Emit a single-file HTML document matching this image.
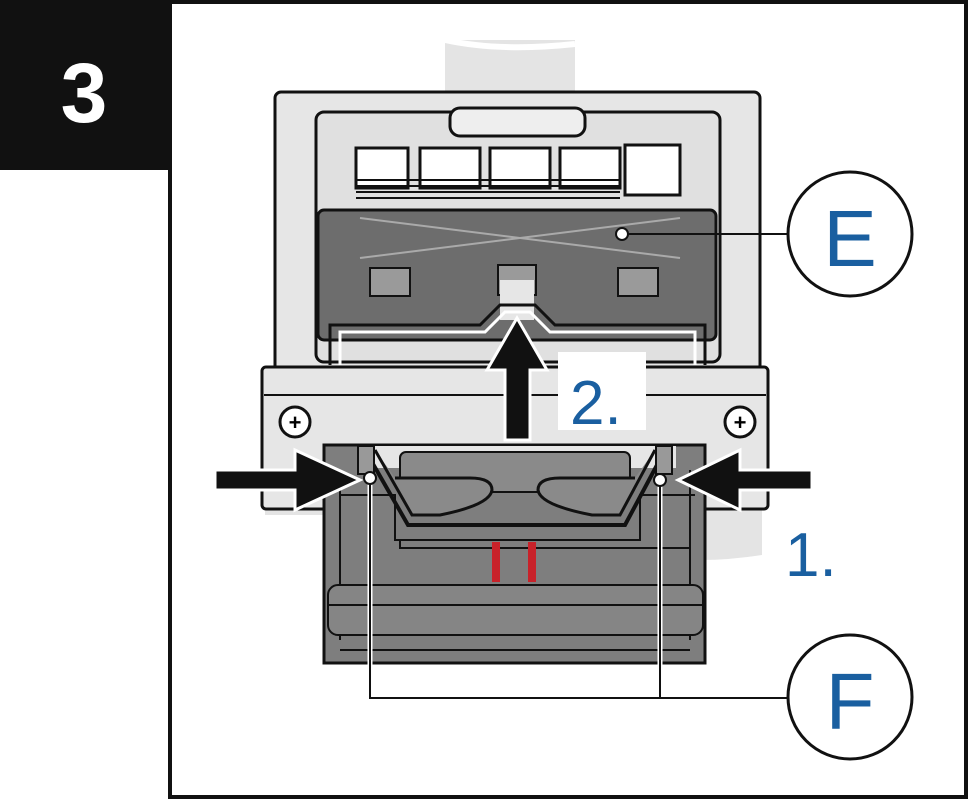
<!DOCTYPE html>
<html><head><style>
html,body{margin:0;padding:0;background:#fff;width:969px;height:800px;overflow:hidden}
</style></head><body>
<svg width="969" height="800" viewBox="0 0 969 800" xmlns="http://www.w3.org/2000/svg" font-family="Liberation Sans, sans-serif">
<rect x="0" y="0" width="969" height="800" fill="#fff"/>
<rect x="170" y="2" width="796" height="795" fill="#fff" stroke="#111" stroke-width="4"/>
<rect x="0" y="0" width="170" height="170" fill="#111"/>
<text x="84" y="122" font-size="84" font-weight="bold" fill="#fff" text-anchor="middle">3</text>

<rect x="445" y="40" width="130" height="60" fill="#e4e4e4"/>
<path d="M445 40 Q500 52 575 44" fill="none" stroke="#fff" stroke-width="6"/>
<path d="M700 380 L762 380 L762 555 Q730 560 700 560 Z" fill="#e4e4e4"/>
<rect x="265" y="500" width="60" height="15" fill="#e4e4e4"/>

<rect x="275" y="92" width="485" height="285" fill="#e6e6e6" stroke="#111" stroke-width="3" rx="6"/>
<rect x="316" y="112" width="404" height="250" fill="#e0e0e0" stroke="#111" stroke-width="3" rx="8"/>
<rect x="450" y="108" width="135" height="28" rx="10" fill="#eee" stroke="#111" stroke-width="3"/>
<g fill="#fff" stroke="#111" stroke-width="3">
<rect x="356" y="148" width="52" height="40"/>
<rect x="420" y="148" width="60" height="40"/>
<rect x="490" y="148" width="60" height="40"/>
<rect x="560" y="148" width="60" height="40"/>
<rect x="625" y="145" width="55" height="50"/>
</g>
<g stroke="#111" stroke-width="2">
<line x1="356" y1="180" x2="620" y2="180"/><line x1="356" y1="186" x2="620" y2="186"/><line x1="356" y1="192" x2="620" y2="192"/><line x1="356" y1="198" x2="620" y2="198"/>
</g>
<rect x="318" y="210" width="398" height="130" fill="#6d6d6d" stroke="#111" stroke-width="3" rx="6"/>
<line x1="360" y1="218" x2="680" y2="258" stroke="#aaa" stroke-width="2"/>
<line x1="360" y1="258" x2="680" y2="218" stroke="#aaa" stroke-width="2"/>
<g fill="#9a9a9a" stroke="#111" stroke-width="2">
<rect x="370" y="268" width="40" height="28"/><rect x="618" y="268" width="40" height="28"/><rect x="498" y="265" width="38" height="30"/>
</g>
<rect x="500" y="280" width="34" height="40" fill="#e6e6e6"/>
<path d="M330 365 L330 325 L480 325 L500 305 L535 305 L555 325 L705 325 L705 365" fill="none" stroke="#111" stroke-width="3"/>
<path d="M340 365 L340 332 L485 332 L505 312 L530 312 L550 332 L695 332 L695 365" fill="none" stroke="#fff" stroke-width="3"/>

<rect x="262" y="367" width="506" height="142" fill="#e6e6e6" stroke="#111" stroke-width="3" rx="4"/>
<line x1="264" y1="395" x2="766" y2="395" stroke="#111" stroke-width="2"/>
<circle cx="295" cy="422" r="15" fill="#fff" stroke="#111" stroke-width="3"/>
<text x="295" y="430" font-size="22" text-anchor="middle" font-weight="bold">+</text>
<circle cx="740" cy="422" r="15" fill="#fff" stroke="#111" stroke-width="3"/>
<text x="740" y="430" font-size="22" text-anchor="middle" font-weight="bold">+</text>

<!-- lower block -->
<rect x="324" y="445" width="381" height="218" fill="#7e7e7e" stroke="#111" stroke-width="3"/>
<rect x="358" y="446" width="318" height="22" fill="#e6e6e6"/>
<rect x="400" y="452" width="230" height="40" rx="6" fill="#8a8a8a" stroke="#111" stroke-width="2"/>
<path d="M340 495 L395 495 L395 540 L640 540 L640 495 L695 495" fill="none" stroke="#111" stroke-width="2"/>
<path d="M400 540 L400 548 L690 548" fill="none" stroke="#111" stroke-width="2"/>
<line x1="340" y1="470" x2="340" y2="640" stroke="#111" stroke-width="2"/>
<line x1="690" y1="470" x2="690" y2="640" stroke="#111" stroke-width="2"/>
<rect x="328" y="585" width="375" height="50" rx="10" fill="#858585" stroke="#111" stroke-width="2"/>
<line x1="328" y1="605" x2="703" y2="605" stroke="#111" stroke-width="2"/>
<line x1="340" y1="650" x2="690" y2="650" stroke="#111" stroke-width="2"/>
<rect x="492" y="542" width="8" height="40" fill="#c8222a"/>
<rect x="528" y="542" width="8" height="40" fill="#c8222a"/>
<!-- levers -->
<path d="M365 450 L408 525 L625 525 L665 450" fill="none" stroke="#111" stroke-width="4"/>
<path d="M375 450 L412 515 L440 515 Q490 505 492 490 Q492 478 470 478 L395 478" fill="#8a8a8a" stroke="#111" stroke-width="3"/>
<path d="M655 450 L620 515 L592 515 Q540 505 538 490 Q538 478 560 478 L635 478" fill="#8a8a8a" stroke="#111" stroke-width="3"/>
<rect x="358" y="446" width="16" height="28" fill="#999" stroke="#111" stroke-width="2"/>
<rect x="656" y="446" width="16" height="28" fill="#999" stroke="#111" stroke-width="2"/>

<!-- arrows -->
<path d="M505 440 L505 370 L487 370 L517 318 L547 370 L530 370 L530 440 Z" fill="#111" stroke="#fff" stroke-width="3"/>
<path d="M215 470 L295 470 L295 450 L360 480 L295 510 L295 490 L215 490 Z" fill="#111" stroke="#fff" stroke-width="3"/>
<path d="M812 470 L740 470 L740 450 L678 480 L740 510 L740 490 L812 490 Z" fill="#111" stroke="#fff" stroke-width="3"/>
<rect x="558" y="352" width="88" height="78" fill="#fff"/>
<text x="570" y="424" font-size="62" fill="#1a5fa0">2.</text>
<text x="785" y="576" font-size="62" fill="#1a5fa0">1.</text>

<line x1="622" y1="234" x2="790" y2="234" stroke="#111" stroke-width="2"/>
<circle cx="622" cy="234" r="6" fill="#fff" stroke="#111" stroke-width="2"/>
<circle cx="850" cy="234" r="62" fill="#fff" stroke="#111" stroke-width="3"/>
<text x="850" y="266" font-size="80" fill="#1a5fa0" text-anchor="middle">E</text>
<polyline points="370,478 370,698 790,698" fill="none" stroke="#fff" stroke-width="5"/>
<line x1="660" y1="480" x2="660" y2="698" stroke="#fff" stroke-width="5"/>
<polyline points="370,478 370,698 790,698" fill="none" stroke="#111" stroke-width="2"/>
<line x1="660" y1="480" x2="660" y2="698" stroke="#111" stroke-width="2"/>
<circle cx="370" cy="478" r="6" fill="#fff" stroke="#111" stroke-width="2"/>
<circle cx="660" cy="480" r="6" fill="#fff" stroke="#111" stroke-width="2"/>
<circle cx="850" cy="697" r="62" fill="#fff" stroke="#111" stroke-width="3"/>
<text x="850" y="729" font-size="80" fill="#1a5fa0" text-anchor="middle">F</text>
</svg>
</body></html>
